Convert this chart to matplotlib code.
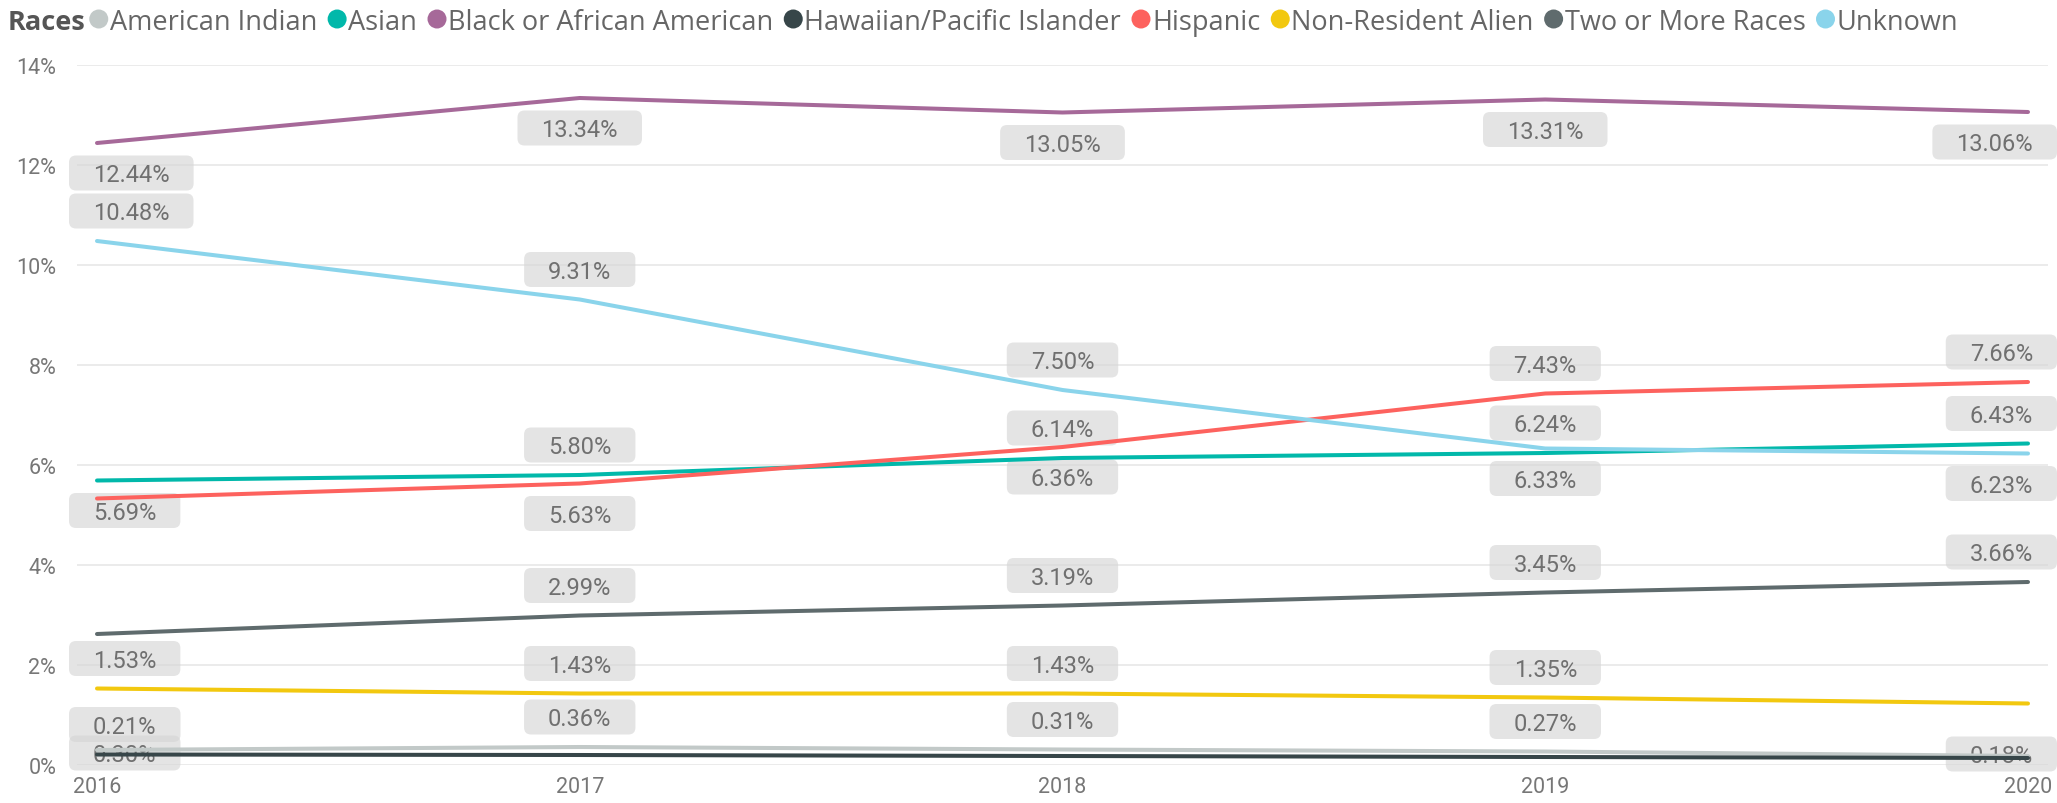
import matplotlib
matplotlib.use("Agg")
import matplotlib.pyplot as plt
from matplotlib.patches import FancyBboxPatch, Circle
from matplotlib.transforms import IdentityTransform

# ---------------- data ----------------
years = [2016, 2017, 2018, 2019, 2020]
series_names = ["American Indian", "Asian", "Black or African American",
                "Hawaiian/Pacific Islander", "Hispanic", "Non-Resident Alien",
                "Two or More Races", "Unknown"]
american_indian = [0.30, 0.36, 0.31, 0.27, 0.18]
asian = [5.69, 5.80, 6.14, 6.24, 6.43]
black = [12.44, 13.34, 13.05, 13.31, 13.06]
hawaiian = [0.21, 0.20, 0.18, 0.16, 0.14]
hispanic = [5.33, 5.63, 6.36, 7.43, 7.66]
non_resident = [1.53, 1.43, 1.43, 1.35, 1.23]
two_or_more = [2.62, 2.99, 3.19, 3.45, 3.66]
unknown = [10.48, 9.31, 7.50, 6.33, 6.23]
y_ticks = [0, 2, 4, 6, 8, 10, 12, 14]

series_values = [american_indian, asian, black, hawaiian, hispanic,
                 non_resident, two_or_more, unknown]
colors = ["#C2C9C8", "#01B8AA", "#A66999", "#374649", "#FD625E",
          "#F2C80F", "#5F6B6D", "#8AD4EB"]

# which points carry a data label: (series index, year index, side)
# side: +1 above, -1 below, 0 on the line
label_spec = [
    (2, 0, -1), (2, 1, -1), (2, 2, -1), (2, 3, -1), (2, 4, -1),
    (7, 0, 1), (7, 1, 1), (7, 2, 1), (7, 3, -1), (7, 4, -1),
    (1, 0, -1), (1, 1, 1), (1, 2, 1), (1, 3, 1), (1, 4, 1),
    (4, 1, -1), (4, 2, -1), (4, 3, 1), (4, 4, 1),
    (6, 1, 1), (6, 2, 1), (6, 3, 1), (6, 4, 1),
    (5, 0, 1), (5, 1, 1), (5, 2, 1), (5, 3, 1),
    (3, 0, 1),
    (0, 0, 0), (0, 1, 1), (0, 2, 1), (0, 3, 1), (0, 4, 0),
]

# ---------------- figure ----------------
W, H, DPI = 2057, 804, 100
fig = plt.figure(figsize=(W / DPI, H / DPI), dpi=DPI)
fig.patch.set_facecolor("white")

ax_left, ax_right, ax_bottom, ax_top = 77, 2048, 766, 66
ax = fig.add_axes([ax_left / W, (H - ax_bottom) / H,
                   (ax_right - ax_left) / W, (ax_bottom - ax_top) / H])

pad_years = 20 / ((2028 - 97) / 4)
ax.set_xlim(years[0] - pad_years, years[-1] + pad_years)
ax.set_ylim(0, 14)

for s in ax.spines.values():
    s.set_visible(False)

ax.set_yticks(y_ticks)
ax.set_yticklabels([f"{v}%" for v in y_ticks])
ax.set_xticks(years)
ax.set_xticklabels([str(y) for y in years])
ax.tick_params(axis="both", length=0, colors="#777777", labelsize=15.5)
ax.tick_params(axis="y", pad=15)
ax.tick_params(axis="x", pad=8)
for lab in ax.get_xticklabels() + ax.get_yticklabels():
    lab.set_fontfamily("Roboto")
ax.yaxis.grid(True, color="#E8E8E8", linewidth=1.2)
ax.set_axisbelow(True)

for vals, c in zip(series_values, colors):
    ax.plot(years, vals, color=c, linewidth=2.9, solid_capstyle="round",
            zorder=4, clip_on=False)

# ---------------- data labels ----------------
label_fs = 17
em_px = label_fs * DPI / 72.0
offset_px = 30
texts = []
for si, yi, side in label_spec:
    v = series_values[si][yi]
    if side == 0:
        dy = -3 if yi == 0 else 2
    else:
        dy = side * offset_px
    if yi == 0:
        ha, dx = "left", -4
    elif yi == len(years) - 1:
        ha, dx = "right", 5
    else:
        ha, dx = "center", 0
    t = ax.annotate(f"{v:.2f}%", xy=(years[yi], v),
                    xytext=(dx, dy - 0.355 * em_px), textcoords="offset pixels",
                    ha=ha, va="baseline", fontsize=label_fs, family="Roboto",
                    color="#707070", zorder=3, annotation_clip=False)
    texts.append((t, years[yi], v, dy))

fig.canvas.draw()
renderer = fig.canvas.get_renderer()
for t, x, v, dy in texts:
    bb = t.get_window_extent(renderer=renderer)
    px, py = ax.transData.transform((x, v))
    cy = py + dy
    box = FancyBboxPatch((bb.x0 - 24, cy - 17.5), bb.width + 48, 35,
                         boxstyle="round,pad=0,rounding_size=7",
                         transform=IdentityTransform(), facecolor="#D6D6D6",
                         edgecolor="none", alpha=0.65, zorder=2, clip_on=False)
    ax.add_patch(box)

# ---------------- legend ----------------
leg_fs = 19.5
leg_y = H - 20
x = 8
t = fig.text(x, leg_y, "Races", transform=IdentityTransform(), ha="left",
             va="center_baseline", fontsize=leg_fs, fontweight="bold",
             family="Open Sans", color="#555555")
x = t.get_window_extent(renderer=renderer).x1
first = True
for name, c in zip(series_names, colors):
    cx = x + (13 if first else 20)
    first = False
    fig.add_artist(Circle((cx, leg_y), 9.5, transform=IdentityTransform(),
                          facecolor=c, edgecolor="none"))
    t = fig.text(cx + 11, leg_y, name, transform=IdentityTransform(),
                 ha="left", va="center_baseline", fontsize=leg_fs,
                 family="Open Sans", color="#666666")
    x = t.get_window_extent(renderer=renderer).x1

fig.savefig("out.png", dpi=DPI, facecolor="white")
